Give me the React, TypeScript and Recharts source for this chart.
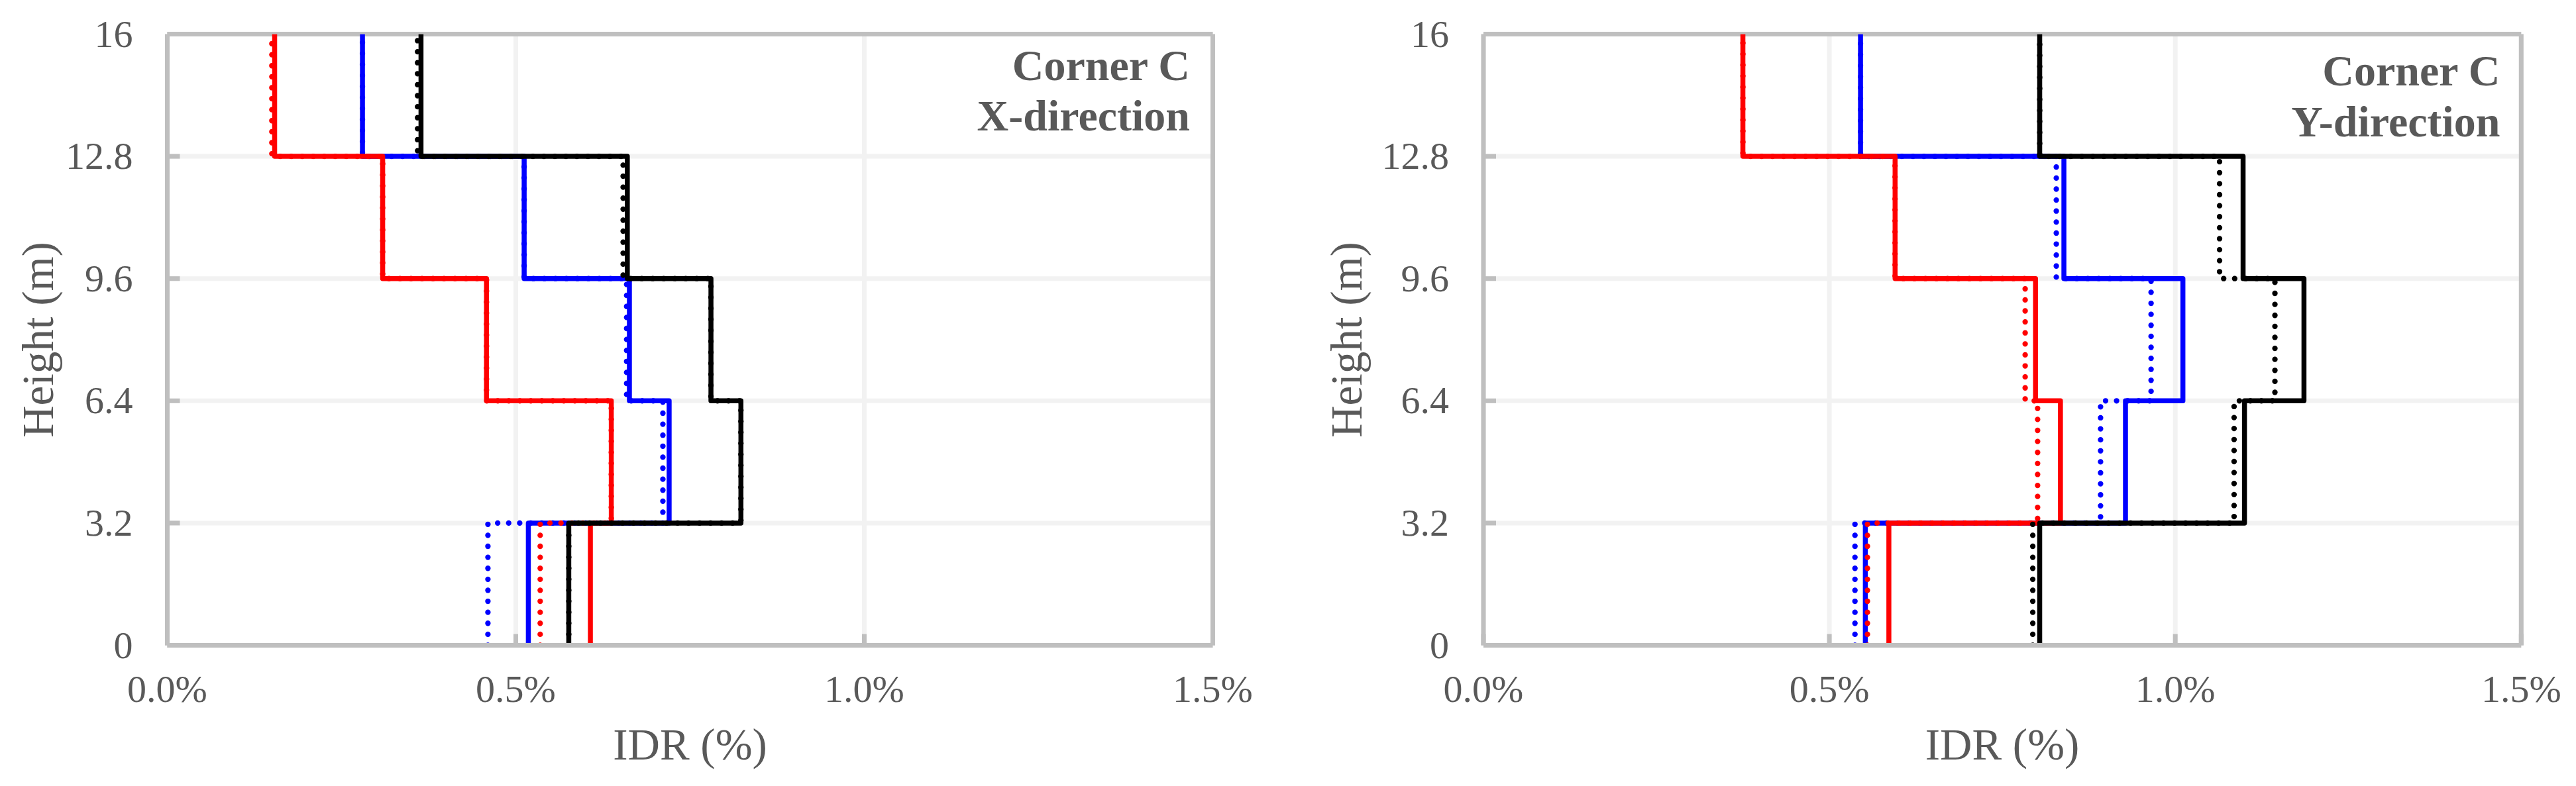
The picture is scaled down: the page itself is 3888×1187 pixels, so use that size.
import React from 'react';
import { LineChart, Line, XAxis, YAxis, CartesianGrid, ReferenceLine } from 'recharts';

// Story top heights (m); story i spans from previous top (or 0) to storyTops[i]
const storyTops = [3.2, 6.4, 9.6, 12.8, 16];
const yTicks = [0, 3.2, 6.4, 9.6, 12.8, 16];
const xTicks = [0, 0.5, 1.0, 1.5];

// Corner C, X-direction: IDR (%) per story (story 1..5)
const xRedSolid = [0.607, 0.637, 0.458, 0.309, 0.154];
const xRedDotted = [0.535, 0.637, 0.458, 0.309, 0.15];
const xBlueSolid = [0.518, 0.72, 0.663, 0.512, 0.28];
const xBlueDotted = [0.46, 0.711, 0.659, 0.512, 0.28];
const xBlackSolid = [0.576, 0.823, 0.78, 0.66, 0.364];
const xBlackDotted = [0.576, 0.823, 0.78, 0.654, 0.359];

// Corner C, Y-direction: IDR (%) per story (story 1..5)
const yRedSolid = [0.586, 0.834, 0.798, 0.595, 0.375];
const yRedDotted = [0.555, 0.801, 0.783, 0.595, 0.375];
const yBlueSolid = [0.552, 0.928, 1.011, 0.839, 0.545];
const yBlueDotted = [0.537, 0.892, 0.965, 0.828, 0.545];
const yBlackSolid = [0.804, 1.1, 1.186, 1.098, 0.804];
const yBlackDotted = [0.794, 1.085, 1.144, 1.064, 0.804];

const H = 1187;
const PLOT_TOP = 51.5;
const PLOT_BOTTOM = 974.5;
const GRAY = '#BFBFBF';
const TXT = '#595959';
const FONT = '"Liberation Serif", "Times New Roman", serif';

function steps(values: number[]) {
  const pts: { v: number; h: number }[] = [];
  values.forEach((v, i) => {
    const bottom = i === 0 ? 0 : storyTops[i - 1];
    pts.push({ v, h: bottom });
    pts.push({ v, h: storyTops[i] });
  });
  return pts;
}

type S = { name: string; values: number[]; color: string; dotted: boolean };

function makeSeries(bd: number[], bs: number[], rd: number[], rs: number[], kd: number[], ks: number[]): S[] {
  return [
    { name: 'blueDotted', values: bd, color: '#0000FF', dotted: true },
    { name: 'blueSolid', values: bs, color: '#0000FF', dotted: false },
    { name: 'redDotted', values: rd, color: '#FF0000', dotted: true },
    { name: 'redSolid', values: rs, color: '#FF0000', dotted: false },
    { name: 'blackDotted', values: kd, color: '#000000', dotted: true },
    { name: 'blackSolid', values: ks, color: '#000000', dotted: false },
  ];
}

const xSeries = makeSeries(xBlueDotted, xBlueSolid, xRedDotted, xRedSolid, xBlackDotted, xBlackSolid);
const ySeries = makeSeries(yBlueDotted, yBlueSolid, yRedDotted, yRedSolid, yBlackDotted, yBlackSolid);

const XTick = (p: any) => {
  const { x, y, payload } = p;
  return (
    <g>
      <line x1={x} x2={x} y1={y - 17} y2={y} stroke={GRAY} strokeWidth={7} />
      <text x={x} y={y + 85.5} textAnchor="middle" fontFamily={FONT} fontSize={58} fill={TXT}>
        {Number(payload.value).toFixed(1) + '%'}
      </text>
    </g>
  );
};

const YTick = (p: any) => {
  const { x, y, payload } = p;
  return (
    <g>
      <line x1={x} x2={x + 19} y1={y} y2={y} stroke={GRAY} strokeWidth={7} />
      <text x={x - 52} y={y + 19} textAnchor="end" fontFamily={FONT} fontSize={58} fill={TXT}>
        {String(payload.value)}
      </text>
    </g>
  );
};

function Panel({ left, width, plotLeft, plotRight, series }: { left: number; width: number; plotLeft: number; plotRight: number; series: S[] }) {
  return (
    <div style={{ position: 'absolute', left, top: 0 }}>
      <LineChart
        width={width}
        height={H}
        margin={{ top: PLOT_TOP, bottom: 0, left: 0, right: width - plotRight }}
      >
        <CartesianGrid stroke="#F2F2F2" strokeWidth={7} />
        <XAxis
          type="number"
          dataKey="v"
          domain={[0, 1.5]}
          ticks={xTicks}
          interval={0}
          height={H - PLOT_BOTTOM}
          allowDataOverflow
          axisLine={{ stroke: GRAY, strokeWidth: 7 }}
          tickLine={false}
          tickSize={0}
          tickMargin={0}
          tick={XTick}
        />
        <YAxis
          type="number"
          domain={[0, 16]}
          ticks={yTicks}
          interval={0}
          width={plotLeft}
          allowDataOverflow
          axisLine={{ stroke: GRAY, strokeWidth: 7 }}
          tickLine={false}
          tickSize={0}
          tickMargin={0}
          tick={YTick}
        />
        <ReferenceLine y={16} stroke={GRAY} strokeWidth={7} />
        <ReferenceLine x={1.5} stroke={GRAY} strokeWidth={7} />
        {series.map((s) => (
          <Line
            key={s.name}
            data={steps(s.values)}
            dataKey="h"
            type="linear"
            stroke={s.color}
            strokeWidth={s.dotted ? 8.3 : 7.5}
            strokeDasharray={s.dotted ? '0.01 16.6' : undefined}
            strokeLinecap={s.dotted ? 'round' : 'butt'}
            strokeLinejoin="round"
            dot={false}
            activeDot={false}
            isAnimationActive={false}
          />
        ))}
      </LineChart>
    </div>
  );
}

export default function App() {
  const midY = (PLOT_TOP + PLOT_BOTTOM) / 2;
  return (
    <div style={{ position: 'absolute', left: 0, top: 0, width: 3888, height: H, background: '#fff' }}>
      <Panel left={0} width={1900} plotLeft={252.5} plotRight={1830.5} series={xSeries} />
      <Panel left={1944} width={1944} plotLeft={295} plotRight={1861.3} series={ySeries} />
      <svg width={3888} height={H} style={{ position: 'absolute', left: 0, top: 0, pointerEvents: 'none' }}>
        <text transform={`translate(80, ${midY}) rotate(-90)`} textAnchor="middle" fontFamily={FONT} fontSize={67} fill={TXT}>
          Height (m)
        </text>
        <text x={1041.5} y={1147} textAnchor="middle" fontFamily={FONT} fontSize={67} fill={TXT}>
          IDR (%)
        </text>
        <text transform={`translate(2055, ${midY}) rotate(-90)`} textAnchor="middle" fontFamily={FONT} fontSize={67} fill={TXT}>
          Height (m)
        </text>
        <text x={3022} y={1147} textAnchor="middle" fontFamily={FONT} fontSize={67} fill={TXT}>
          IDR (%)
        </text>
        <text x={1796} y={121} textAnchor="end" fontFamily={FONT} fontSize={66} fontWeight="bold" fill={TXT}>
          Corner C
        </text>
        <text x={1796} y={197} textAnchor="end" fontFamily={FONT} fontSize={66} fontWeight="bold" fill={TXT}>
          X-direction
        </text>
        <text x={3773.5} y={129} textAnchor="end" fontFamily={FONT} fontSize={66} fontWeight="bold" fill={TXT}>
          Corner C
        </text>
        <text x={3773.5} y={206} textAnchor="end" fontFamily={FONT} fontSize={66} fontWeight="bold" fill={TXT}>
          Y-direction
        </text>
      </svg>
    </div>
  );
}
